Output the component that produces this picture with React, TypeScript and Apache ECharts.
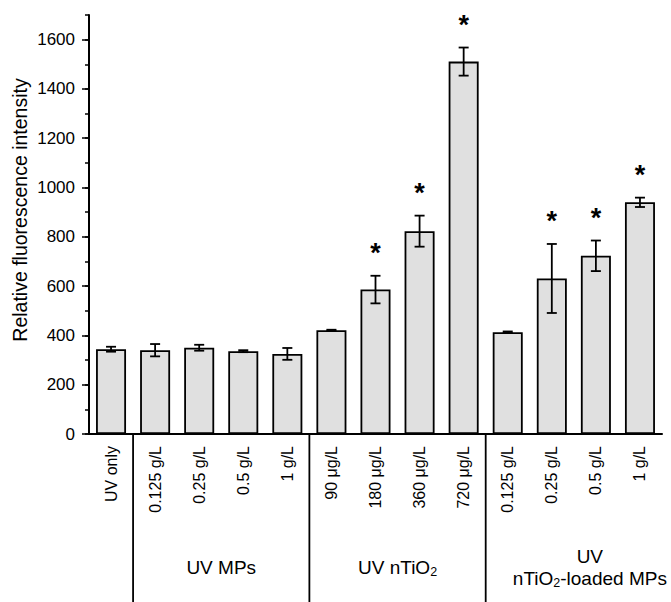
import React, { useEffect, useRef } from "react";
import * as echarts from "echarts";

const categories = [
  "UV only",
  "0.125 g/L",
  "0.25 g/L",
  "0.5 g/L",
  "1 g/L",
  "90 μg/L",
  "180 μg/L",
  "360 μg/L",
  "720 μg/L",
  "0.125 g/L",
  "0.25 g/L",
  "0.5 g/L",
  "1 g/L",
];
const means = [344, 340, 350, 336, 325, 421, 586, 823, 1511, 413, 631, 723, 940];
const errors = [10, 25, 12, 4, 24, 2, 56, 63, 57, 3, 140, 62, 19];
const significant = [0, 0, 0, 0, 0, 0, 1, 1, 1, 0, 1, 1, 1];
const yTicks = [0, 200, 400, 600, 800, 1000, 1200, 1400, 1600];
const groupStart = [1, 5, 9];
const groupEnd = [4, 8, 12];
const groupLabels = [
  "{t|UV MPs}",
  "{t|UV nTiO}{s|2}",
  "{t|UV}\n{t|nTiO}{s|2}{t|-loaded MPs}",
];
const groupLabelShift = [0, 0, 16];
const yTitle = "Relative fluorescence intensity";

const FONT = "'Liberation Sans', Arial, sans-serif";

export default function App() {
  const ref = useRef<HTMLDivElement>(null);
  useEffect(() => {
    const chart = echarts.init(ref.current!, null, { renderer: "svg" });
    const errData = means.map((m, i) => [i, m, errors[i], significant[i]]);
    const groupData = groupStart.map((s, i) => [s, groupEnd[i], i]);
    chart.setOption({
      animation: false,
      backgroundColor: "#fff",
      textStyle: { fontFamily: FONT, color: "#000" },
      grid: { left: 89, right: 9, top: 15, bottom: 168, containLabel: false, outerBoundsMode: "none" },
      graphic: [
        {
          type: "text",
          x: 20,
          y: 210,
          rotation: Math.PI / 2,
          style: {
            text: yTitle,
            fontSize: 19.5,
            fontFamily: FONT,
            fill: "#000",
            textAlign: "center",
            textVerticalAlign: "middle",
          },
        },
      ],
      xAxis: {
        type: "category",
        data: categories,
        axisLine: { lineStyle: { color: "#000", width: 2 } },
        axisTick: { alignWithLabel: true, length: 7, lineStyle: { color: "#000", width: 1.5 } },
        axisLabel: { rotate: 90, fontSize: 16, color: "#000", margin: 12, fontFamily: FONT, interval: 0 },
        splitLine: { show: false },
      },
      yAxis: [
        {
          type: "value",
          min: 0,
          max: 1700,
          interval: 100,
          axisLine: { show: true, lineStyle: { color: "#000", width: 2 } },
          axisTick: { show: true, length: 4, lineStyle: { color: "#000", width: 1.5 } },
          axisLabel: { show: false },
          splitLine: { show: false },
        },
        {
          type: "value",
          min: 0,
          max: 1700,
          interval: 100,
          position: "left",
          axisLine: { show: false },
          axisTick: { show: true, length: 7, customValues: yTicks, lineStyle: { color: "#000", width: 1.5 } },
          axisLabel: {
            show: true,
            customValues: yTicks,
            fontSize: 17,
            color: "#000",
            margin: 14,
            fontFamily: FONT,
            formatter: (v: number) => String(v),
          },
          splitLine: { show: false },
        },
      ],
      series: [
        {
          type: "bar",
          data: means,
          yAxisIndex: 0,
          barWidth: 30,
          itemStyle: { color: "#e0e0e0", borderColor: "#000", borderWidth: 1.8 },
        },
        {
          type: "custom",
          yAxisIndex: 0,
          data: errData,
          encode: { x: 0, y: 1 },
          z: 5,
          renderItem: (params: any, api: any) => {
            const i = api.value(0);
            const m = api.value(1);
            const e = api.value(2);
            const sig = api.value(3);
            const x = api.coord([i, m])[0];
            const top = api.coord([i, m + e])[1];
            const bot = api.coord([i, m - e])[1];
            const cap = 5;
            const ls = { stroke: "#000", lineWidth: 1.8 };
            const children: any[] = [
              { type: "line", shape: { x1: x, y1: top, x2: x, y2: bot }, style: ls },
              { type: "line", shape: { x1: x - cap, y1: top, x2: x + cap, y2: top }, style: ls },
              { type: "line", shape: { x1: x - cap, y1: bot, x2: x + cap, y2: bot }, style: ls },
            ];
            if (sig) {
              children.push({
                type: "text",
                x,
                y: top - 23,
                style: {
                  text: "*",
                  fontSize: 27,
                  fontWeight: "bold",
                  fontFamily: FONT,
                  fill: "#000",
                  textAlign: "center",
                  textVerticalAlign: "middle",
                },
              });
            }
            return { type: "group", children };
          },
        },
        {
          type: "custom",
          yAxisIndex: 0,
          data: groupData,
          encode: { x: 0 },
          clip: false,
          silent: true,
          renderItem: (params: any, api: any) => {
            const s = api.value(0);
            const e = api.value(1);
            const idx = api.value(2);
            const band = api.size([1, 0])[0];
            const xs = api.coord([s, 0]);
            const xe = api.coord([e, 0]);
            const y0 = xs[1];
            const xLine = xs[0] - band / 2;
            const cx = (xs[0] + xe[0]) / 2 + groupLabelShift[idx];
            const h = api.getHeight();
            return {
              type: "group",
              children: [
                {
                  type: "line",
                  shape: { x1: xLine, y1: y0, x2: xLine, y2: h },
                  style: { stroke: "#000", lineWidth: 1.8 },
                },
                {
                  type: "text",
                  x: cx,
                  y: y0 + 133,
                  style: {
                    text: groupLabels[idx],
                    textAlign: "center",
                    textVerticalAlign: "middle",
                    fill: "#000",
                    rich: {
                      t: { fontSize: 19, fontFamily: FONT, lineHeight: 22, fill: "#000" },
                      s: { fontSize: 12.5, fontFamily: FONT, lineHeight: 7, verticalAlign: "bottom", fill: "#000" },
                    },
                  },
                },
              ],
            };
          },
        },
      ],
    });
    return () => chart.dispose();
  }, []);
  return (
    <div
      ref={ref}
      style={{ position: "absolute", left: 0, top: 0, width: 671, height: 602 }}
    />
  );
}
